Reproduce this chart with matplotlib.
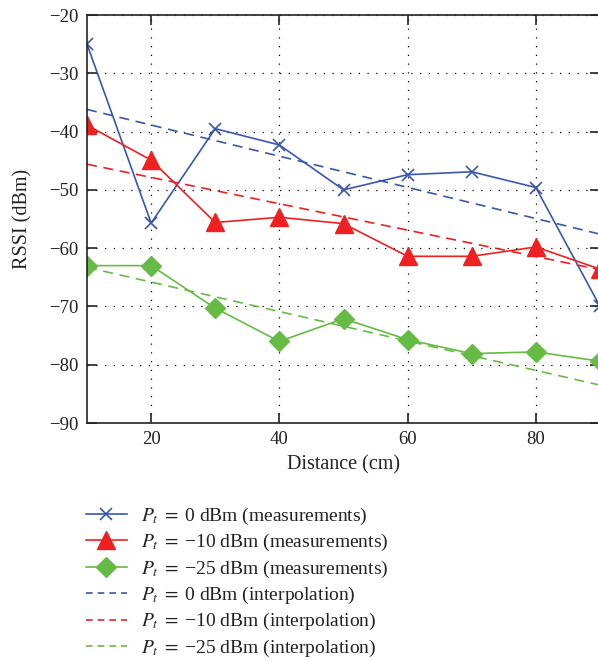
import matplotlib
matplotlib.use("Agg")
import matplotlib.pyplot as plt

plt.rcParams['font.family'] = ['Liberation Serif', 'DejaVu Serif']
plt.rcParams['mathtext.fontset'] = 'stix'

distance = [10, 20, 30, 40, 50, 60, 70, 80, 90]
rssi_0 = [-25.0, -55.7, -39.5, -42.3, -50.0, -47.4, -46.9, -49.6, -70.0]
rssi_m10 = [-38.9, -44.9, -55.6, -54.7, -55.8, -61.4, -61.4, -59.8, -63.6]
rssi_m25 = [-63.0, -63.0, -70.3, -76.0, -72.1, -75.7, -78.1, -77.8, -79.4]

interp_x = [10, 90]
interp_0 = [-36.2, -57.6]
interp_m10 = [-45.6, -63.7]
interp_m25 = [-63.3, -83.5]

xticks = [20, 40, 60, 80]
yticks = [-90, -80, -70, -60, -50, -40, -30, -20]

labels = [r'$P_t\;=\;$0 dBm (measurements)',
          r'$P_t\;=\;$' + '\u221210 dBm (measurements)',
          r'$P_t\;=\;$' + '\u221225 dBm (measurements)',
          r'$P_t\;=\;$0 dBm (interpolation)',
          r'$P_t\;=\;$' + '\u221210 dBm (interpolation)',
          r'$P_t\;=\;$' + '\u221225 dBm (interpolation)']

blue = '#3a58ab'
red = '#ee2020'
green = '#66bb44'

fig = plt.figure(figsize=(5.98, 6.61), dpi=100)
ax = fig.add_axes([87/598, 1-423/661, 513/598, 408/661])

ax.plot(distance, rssi_0, color=blue, lw=1.2, marker='x', ms=9, mew=1.2, label=labels[0])
ax.plot(distance, rssi_m10, color=red, lw=1.2, marker='^', ms=13, label=labels[1])
ax.plot(distance, rssi_m25, color=green, lw=1.2, marker='D', ms=10, label=labels[2])
ax.plot(interp_x, interp_0, color=blue, lw=1.2, ls=(0, (6, 4)), label=labels[3])
ax.plot(interp_x, interp_m10, color=red, lw=1.2, ls=(0, (6, 4)), label=labels[4])
ax.plot(interp_x, interp_m25, color=green, lw=1.2, ls=(0, (6, 4)), label=labels[5])

ax.set_xlim(10, 90)
ax.set_ylim(-90, -20)
ax.set_xticks(xticks)
ax.set_yticks(yticks)
ax.set_yticklabels([f'\u2212{abs(v)}' for v in yticks])
ax.tick_params(direction='in', length=7, width=1.2, top=True, right=True,
               labelsize=13.5, colors='#222222', pad=6)
ax.grid(True, color='black', ls=(0, (1, 6)), lw=0.9)
for s in ax.spines.values():
    s.set_linewidth(1.2)
    s.set_color('#222222')

ax.set_xlabel('Distance (cm)', fontsize=14.5, color='#222222', labelpad=5)
ax.set_ylabel('RSSI (dBm)', fontsize=14.5, color='#222222', labelpad=12)

handles, labs = ax.get_legend_handles_labels()
leg = fig.legend(handles, labs, loc='upper left', bbox_to_anchor=(78/598, 1-498/661),
                 frameon=False, fontsize=14, handlelength=2.1, handletextpad=0.75,
                 labelspacing=0.27, borderaxespad=0, labelcolor='#222222')
for h in leg.get_lines()[3:]:
    h.set_linestyle((0, (4, 3)))

fig.savefig('out.png', dpi=100)
